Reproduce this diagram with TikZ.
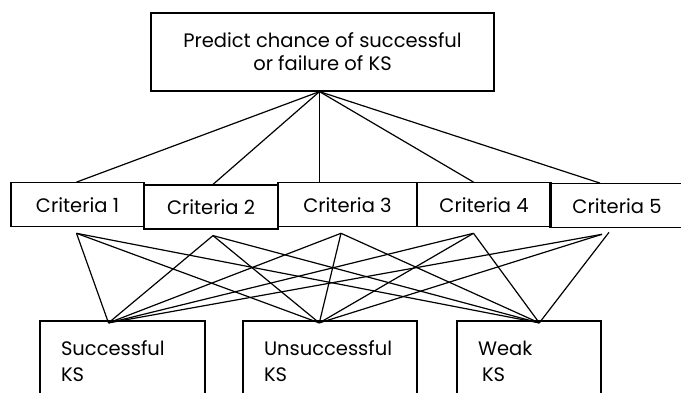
\documentclass[tikz,border=0pt]{standalone}
\usepackage{fontspec}
\setmainfont{Poppins}
\usepackage{tikz}

\begin{document}
\begin{tikzpicture}
[x=1pt,y=-1pt,line width=1.2pt]
\tikzset{
	goal/.style = {rectangle, draw, minimum width=343pt, minimum height=78pt, align=center, font=\fontsize{19.5}{23}\selectfont},
	criteria/.style = {rectangle, draw, minimum width=134pt, minimum height=44pt, inner sep=0pt, font=\fontsize{19.5}{22}\selectfont},
	result/.style = {rectangle, draw, minimum height=80pt, inner xsep=21pt, align=left, font=\fontsize{19.5}{26}\selectfont}
}
\useasboundingbox (0,0) rectangle (681,392);
\clip (0,0) rectangle (681,392);

\node(0) [goal] at (322.5,52) {Predict chance of successful\\or failure of KS};

\node(c1) [criteria, minimum width=133pt] at (77.5,204.7) {Criteria 1};
\node(c2) [criteria] at (211,207) {Criteria 2};
\node(c3) [criteria, minimum width=139pt] at (347.5,204.7) {Criteria 3};
\node(c4) [criteria] at (484,204.7) {Criteria 4};
\node(c5) [criteria] at (617,205.7) {Criteria 5};

\node(s) [result, text width=123pt] at (122.5,361) {Successful\\KS};
\node(u) [result, text width=132pt] at (330,361) {Unsuccessful\\KS};
\node(w) [result, text width=102pt] at (529,361) {Weak\\\hspace{4pt}KS};

\coordinate (apex) at ([xshift=-3pt]0.south);
\foreach \c/\dx in {c1/-1,c2/2,c3/-28,c4/-10.5,c5/-17}
	\draw (apex) -- ([xshift=\dx pt]\c.north);

\foreach \c/\dx in {c1/-1,c2/2,c3/-6.5,c4/-10.5,c5/-15}
	\coordinate (\c-b) at ([xshift=\dx pt,yshift=-6pt]\c.south);
\coordinate (c5-w) at ([xshift=-8pt,yshift=-4pt]c5.south);
\coordinate (s-t) at ([xshift=-14pt,yshift=-2.5pt]s.north);
\coordinate (u-t) at ([xshift=-10.7pt,yshift=-2.5pt]u.north);
\coordinate (w-t) at ([xshift=10.3pt,yshift=-2.5pt]w.north);

\foreach \c in {c1,c2,c3,c4}
	\foreach \r in {s,u,w}
		\draw (\c-b) -- (\r-t);
\draw (c5-b) -- (s-t);
\draw (c5-b) -- (u-t);
\draw (c5-w) -- (w-t);

\end{tikzpicture}
\end{document}
